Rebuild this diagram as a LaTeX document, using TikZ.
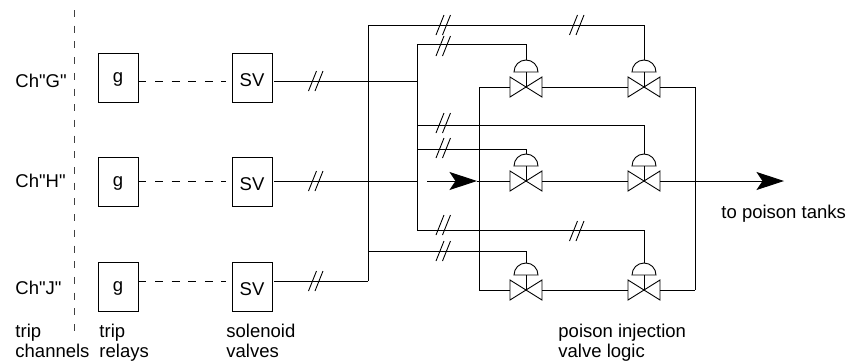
\documentclass[tikz,border=0pt]{standalone}
\usepackage{fontspec}
\newfontfamily\diagfont{Liberation Sans}
\usetikzlibrary{arrows.meta}
\newcommand{\boxtxt}[1]{\raisebox{0pt}[\dimexpr\height+4.4pt][\depth]{#1}}
\tikzset{
	lbl/.style = {inner sep = 0pt, anchor = base west, align = left, font = \diagfont\fontsize{18.5}{20}\selectfont},
	relaybox/.style = {draw, minimum width = 40pt, minimum height = 49pt, inner sep = 0pt, font = \diagfont\fontsize{18.5}{20}\selectfont},
	pipeflow/.style = {-{Stealth[length = 27.5pt, width = 18pt, inset = 6pt]}},
	pics/valvesym/.style = {code = {
		\coordinate (-in) at (-16, 0);
		\coordinate (-out) at (16, 0);
		\coordinate (-top) at (0, -27);
		\draw (-16, -10)--(16, 10)--(16, -10)--(-16, 10)--cycle;
		\draw (0, 0)--(0, -15);
		\draw (-12, -15) arc [start angle = 180, end angle = 360, radius = 12]--cycle;
		\fill (0, 0) circle (1);
	}},
	tick/.pic = {
		\draw (-7.5, 10)--(.5, -10);
		\draw (-1, 10)--(7, -10);
	}
}
\begin{document}
\begin{tikzpicture}[x = 1pt, y = -1pt, line width = .9pt]
	\useasboundingbox (0, 0) rectangle (849, 362);
	% relays and solenoids
	\foreach \ch/\top/\port in {G/53/81, H/157/181, J/262/281}
	{
		\node[relaybox] (relay\ch) at (118, \top + 24.5) {\boxtxt{g}};
		\node[relaybox] (sv\ch) at (252, \top + 24.5) {\boxtxt{SV}};
		\coordinate (port\ch) at (0, \port);
		\draw[dash pattern = on 8pt off 8.6pt, shorten >= 6pt] (port\ch -| relay\ch.east)--(port\ch -| sv\ch.west);
	}
	\draw[dash pattern = on 7pt off 8.7pt, color = black!75] (74, 10) coordinate (divtop)--(74, 338) coordinate (divbot);
	% labels
	\node[lbl] (labG) at (15, 87) {Ch"G"};
	\node[lbl] (labH) at (15, 187) {Ch"H"};
	\node[lbl] (labJ) at (15, 294) {Ch"J"};
	\node[lbl] (labchan) at (15, 357) {trip\\channels};
	\node[lbl] (labrelay) at (99, 357) {trip\\relays};
	\node[lbl] (labsv) at (226, 357) {solenoid\\valves};
	\node[lbl] (labvalve) at (558, 357) {poison injection\\valve logic};
	\node[lbl] (labtank) at (721, 218) {to poison tanks};
	% valves
	\pic (v1) at (526, 87) {valvesym};
	\pic (v2) at (644, 87) {valvesym};
	\pic (v3) at (526, 181) {valvesym};
	\pic (v4) at (644, 181) {valvesym};
	\pic (v5) at (526, 290) {valvesym};
	\pic (v6) at (644, 290) {valvesym};
	% signal headers
	\coordinate (busJ) at (368, 281);
	\coordinate (busG) at (417, 81);
	\coordinate (busH) at (417, 181);
	\coordinate (sigtop) at (368, 25);
	\coordinate (siglow) at (368, 251);
	\draw[shorten <= 2pt] (svG.east |- portG)--(busG);
	\draw[shorten <= 2pt] (svH.east |- portH)--(busH);
	\draw[shorten <= 2pt] (svJ.east |- portJ)--(busJ);
	\draw (busJ)--(sigtop)--(sigtop -| v2-top)--(v2-top);
	\draw (417, 44) coordinate (g1)--(417, 230) coordinate (g2);
	\draw (g1)--(g1 -| v1-top)--(v1-top);
	\draw (417, 125) coordinate (g3)--(g3 -| v4-top)--(v4-top);
	\draw (417, 149) coordinate (g4)--(g4 -| v3-top)--(v3-top);
	\draw (g2)--(g2 -| v6-top)--(v6-top);
	\draw (siglow)--(siglow -| v5-top)--(v5-top);
	% process lines
	\draw (479, 87) coordinate (inlettop)--(479, 290) coordinate (inletbot);
	\draw (inlettop)--(v1-in);
	\draw (inletbot)--(v5-in);
	\draw (v1-out)--(v2-in);
	\draw (v3-out)--(v4-in);
	\draw (v5-out)--(v6-in);
	\draw (695, 87) coordinate (outtop)--(695, 290) coordinate (outbot);
	\draw (v2-out)--(outtop);
	\draw (v6-out)--(outbot);
	\coordinate (flowa) at (427, 181);
	\coordinate (flowb) at (477, 181);
	\coordinate (flowend) at (784, 181);
	\draw[pipeflow] (flowa)--(flowb);
	\draw (flowb)--(v3-in);
	\draw[pipeflow] (v4-out)--(flowend);
	% cable marks
	\foreach \x/\y in {443.5/25, 577/25, 443.5/46, 443.5/123, 443.5/148, 443.5/225, 577/231, 443.5/251, 316/81, 316/181, 316/281}
		\pic at (\x, \y) {tick};
\end{tikzpicture}
\end{document}
